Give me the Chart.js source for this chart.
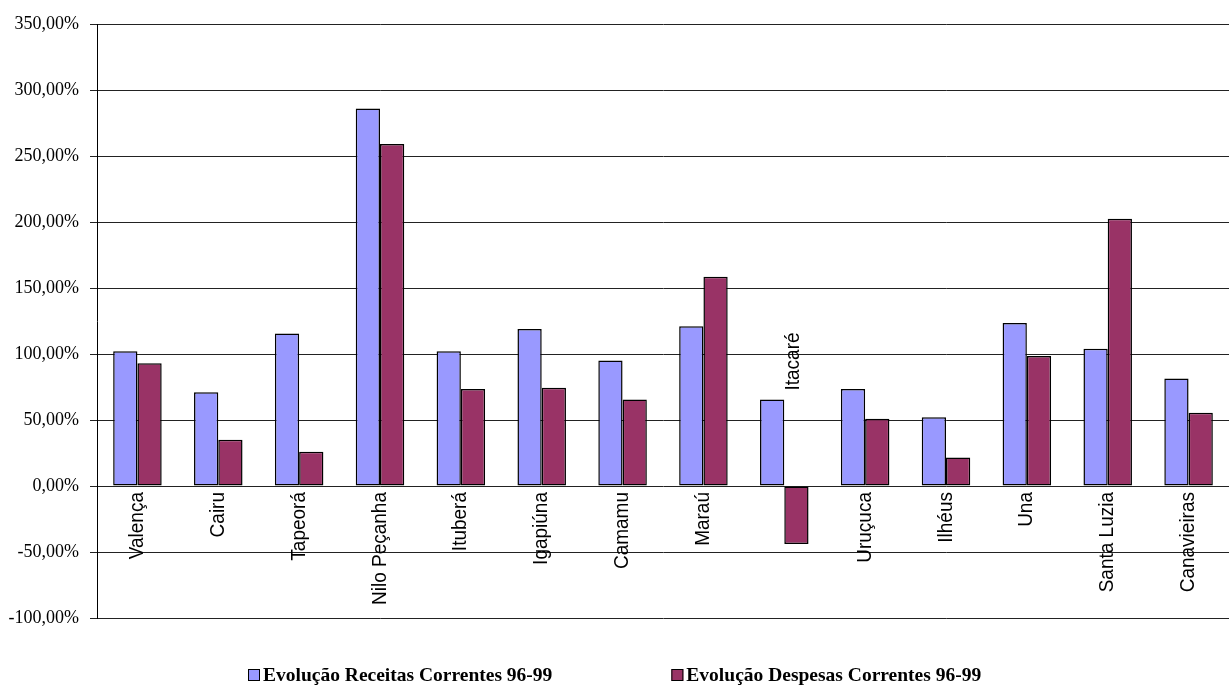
<!DOCTYPE html>
<html>
<head>
<meta charset="utf-8">
<script src="https://cdn.jsdelivr.net/npm/chart.js@4/dist/chart.umd.min.js"></script>
<style>
    html, body { margin: 0; padding: 0; background: #fff; }
    #wrap { width: 1229px; height: 686px; }
</style>
</head>
<body>
<div id="wrap"><canvas id="evolucao"></canvas></div>
<script>
/* data */

const municipios = ['Valença', 'Cairu', 'Tapeorá', 'Nilo Peçanha', 'Ituberá', 'Igapiúna', 'Camamu',
    'Maraú', 'Itacaré', 'Uruçuca', 'Ilhéus', 'Una', 'Santa Luzia', 'Canavieiras'];
const receitas = [102, 71, 115.5, 286, 102, 119, 95, 121, 65.5, 73.5, 52, 123.5, 104, 81.5];
const despesas = [93, 35, 26, 259, 73.5, 74.5, 65.5, 158.5, -44, 51, 21.5, 98.5, 202.5, 55.5];
const seriesNames = ['Evolução Receitas Correntes 96-99', 'Evolução Despesas Correntes 96-99'];
const seriesColors = ['#9999FF', '#993366'];
const yTicks = [-100, -50, 0, 50, 100, 150, 200, 250, 300, 350];

/* category names sit on the zero line, like the excel original */

const categoryLabels = {
    id: 'categoryLabels',
    afterDatasetsDraw: function (chart) {
        var ctx = chart.ctx;
        var x = chart.scales.x, y = chart.scales.y;
        ctx.save();
        ctx.font = '20px "Liberation Sans", Arial, sans-serif';
        ctx.fillStyle = '#000';
        ctx.textBaseline = 'middle';
        municipios.forEach(function (name, i) {
            var px = x.getPixelForValue(i);
            var low = Math.min(receitas[i], despesas[i]);
            var py;
            ctx.save();
            if (low < 0) {
                py = y.getPixelForValue(Math.max(receitas[i], despesas[i])) - 9;
                ctx.translate(px + 9, py);
                ctx.rotate(-Math.PI / 2);
                ctx.textAlign = 'left';
            } else {
                py = y.getPixelForValue(0) + 6;
                ctx.translate(px, py);
                ctx.rotate(-Math.PI / 2);
                ctx.textAlign = 'right';
            }
            ctx.scale(0.95, 1);
            ctx.fillText(name, 0, 0);
            ctx.restore();
        });
        ctx.restore();
    }
};

/* legend with the wide gap between the two entries */

const wideLegend = {
    id: 'wideLegend',
    afterDraw: function (chart) {
        var ctx = chart.ctx;
        var gap = 119, box = 12, space = 3;
        ctx.save();
        ctx.font = 'bold 19.5px "Liberation Serif", "Times New Roman", serif';
        var widths = seriesNames.map(function (n) { return box + space + ctx.measureText(n).width; });
        var total = widths[0] + gap + widths[1];
        var cx = Math.round((chart.width - total) / 2);
        var cy = 675;
        ctx.textBaseline = 'middle';
        ctx.textAlign = 'left';
        seriesNames.forEach(function (n, i) {
            ctx.fillStyle = seriesColors[i];
            ctx.fillRect(cx, cy - box / 2, box, box);
            ctx.strokeStyle = '#000';
            ctx.lineWidth = 1;
            ctx.strokeRect(cx + 0.5, cy - box / 2 + 0.5, box - 1, box - 1);
            ctx.fillStyle = '#000';
            ctx.fillText(n, cx + box + space, cy + 1);
            cx += widths[i] + gap;
        });
        ctx.restore();
    }
};

/* draw chart */

var ctx = document.getElementById('evolucao').getContext('2d');
var evolucao = new Chart(ctx, {
    type: 'bar',
    data: {
        labels: municipios,
        datasets: [{
            label: seriesNames[0],
            data: receitas,
            backgroundColor: seriesColors[0]
        }, {
            label: seriesNames[1],
            data: despesas,
            backgroundColor: seriesColors[1]
        }]
    },
    options: {
        responsive: true,
        maintainAspectRatio: false,
        animation: false,
        layout: {
            padding: { top: 24, right: 0, bottom: 68, left: 0 }
        },
        datasets: {
            bar: {
                categoryPercentage: 0.6,
                barPercentage: 1,
                borderColor: '#000',
                borderWidth: 1.5,
                borderSkipped: false
            }
        },
        plugins: {
            legend: { display: false },
            tooltip: { enabled: false }
        },
        scales: {
            x: { display: false },
            y: {
                min: yTicks[0],
                max: yTicks[yTicks.length - 1],
                afterBuildTicks: function (scale) {
                    scale.ticks = yTicks.map(function (v) { return { value: v }; });
                },
                afterFit: function (scale) { scale.width = 97; },
                border: { display: true, color: '#000', width: 1 },
                grid: { color: '#222', lineWidth: 1, tickLength: 7 },
                ticks: {
                    padding: 11,
                    color: '#000',
                    font: { family: '"Liberation Serif", "Times New Roman", serif', size: 18 },
                    callback: function (v) { return v.toFixed(2).replace('.', ',') + '%'; }
                }
            }
        }
    },
    plugins: [categoryLabels, wideLegend]
});
</script>
</body>
</html>
